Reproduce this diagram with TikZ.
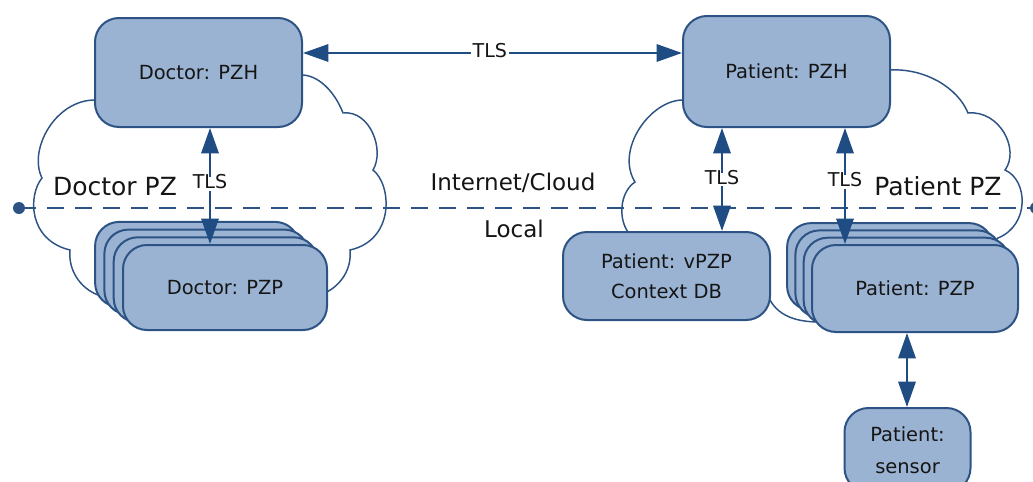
\documentclass[tikz,border=0pt]{standalone}
\usepackage{fontspec}
\setmainfont{DejaVu Sans}
\usetikzlibrary{arrows.meta,calc}
\definecolor{boxfill}{HTML}{9BB3D3}
\definecolor{edge}{HTML}{2C5384}
\definecolor{arrc}{HTML}{1F4C82}
\definecolor{txt}{HTML}{151515}
\begin{document}
\begin{tikzpicture}[x=0.75pt,y=-0.75pt,
  box/.style={draw=edge, line width=1.5pt, fill=boxfill, rounded corners=18pt, inner sep=0pt, text=txt, font=\fontsize{14.6}{22.5}\selectfont, align=center},
  cloudline/.style={draw=edge, line width=1.1pt},
  arr/.style={draw=arrc, line width=1.6pt, {Triangle[length=19pt,width=13pt]}-{Triangle[length=19pt,width=13pt]}},
  tls/.style={fill=white, inner sep=1.5pt, text=txt, text height=0.73em, text depth=0pt, font=\fontsize{14.3}{16}\selectfont},
  zone/.style={text=txt, inner sep=0pt, text height=0.73em, text depth=0pt, font=\fontsize{18.75}{22}\selectfont},
  zonesm/.style={zone, font=\fontsize{17.25}{20}\selectfont},
  sep/.style={draw=edge, line width=1.5pt, dash pattern=on 12.75pt off 8.25pt},
]
\useasboundingbox (0,0) rectangle (1033,482);
\clip (0,0) rectangle (1033,482);

% clouds
\draw[cloudline] (110,100) -- (95,100)
  .. controls (55,100) and (28,150) .. (42,178)
  .. controls (28,195) and (28,240) .. (70,250)
  .. controls (68,270) and (80,288) .. (98,295) -- (130,300);
\draw[cloudline] (290,75) -- (300,75)
  .. controls (318,74) and (335,92) .. (343,113)
  .. controls (370,110) and (385,150) .. (373,170)
  .. controls (392,185) and (395,240) .. (350,250)
  .. controls (352,270) and (340,285) .. (327,292) -- (310,296);
\draw[cloudline] (700,100) -- (683,100)
  .. controls (650,100) and (615,150) .. (635,182)
  .. controls (620,192) and (618,218) .. (628,232) -- (630,245);
\draw[cloudline] (870,70) -- (890,70)
  .. controls (925,68) and (958,88) .. (968,113)
  .. controls (1000,110) and (1020,150) .. (1005,170)
  .. controls (1028,180) and (1030,225) .. (998,238) -- (985,250);
\draw[cloudline] (760,300) -- (770,300)
  .. controls (780,318) and (800,322) .. (820,322);

% local / cloud separator
\coordinate (ldot) at (19,208);
\coordinate (rdot) at (1036,208);
\draw[sep] (ldot) -- (rdot);
\fill[edge] (ldot) circle (6);
\fill[edge] (rdot) circle (6);

% boxes
\node[box, minimum width=155.25pt, minimum height=81.75pt] (dpzh) at (198.5,72.5) {Doctor: PZH};
\node[box, minimum width=155.25pt, minimum height=83.25pt] (ppzh) at (786.5,71.5) {Patient: PZH};
\foreach \k in {3,2,1}
  \node[box, minimum width=153pt, minimum height=63.75pt] (dpzpb\k) at (225-9.3*\k,287.5-7.7*\k) {};
\node[box, minimum width=153pt, minimum height=63.75pt] (dpzp) at (225,287.5) {Doctor: PZP};
\node[box, minimum width=155.25pt, minimum height=66pt] (vpzp) at (666.5,276) {Patient: vPZP\\Context DB};
\foreach \k in {3,2,1}
  \node[box, minimum width=154.5pt, minimum height=65.25pt] (ppzpb\k) at (915-8.3*\k,288.5-7.3*\k) {};
\node[box, minimum width=154.5pt, minimum height=65.25pt] (ppzp) at (915,288.5) {Patient: PZP};
\node[box, minimum width=94.5pt, minimum height=63pt, font=\fontsize{14.6}{24}\selectfont] (sensor) at (907.5,450) {Patient:\\sensor};

% connectors
\coordinate (ct) at (0,53);
\coordinate (cd) at (210,0);
\coordinate (cp1) at (722,0);
\coordinate (cp2) at (845,0);
\coordinate (cs) at (907,0);
\draw[arr] (dpzh.east |- ct) -- node[tls, pos=0.493] (tlstop) {TLS} (ppzh.west |- ct);
\draw[arr] (cd |- dpzh.south) -- node[tls, pos=0.48] (tlsd) {TLS} (cd |- dpzp.north);
\draw[arr] (cp1 |- ppzh.south) -- node[tls, pos=0.5] (tlsp1) {TLS} (cp1 |- vpzp.north);
\draw[arr] (cp2 |- ppzh.south) -- node[tls, pos=0.466] (tlsp2) {TLS} (cp2 |- ppzp.north);
\draw[arr] (cs |- ppzp.south) -- (cs |- sensor.north);

% zone labels
\node[zone] (dpz) at (115,191) {Doctor PZ};
\node[zone] (ppz) at (938,191) {Patient PZ};
\node[zonesm] (inet) at (513,186) {Internet/Cloud};
\node[zonesm] (local) at (514,233) {Local};
\end{tikzpicture}
\end{document}
